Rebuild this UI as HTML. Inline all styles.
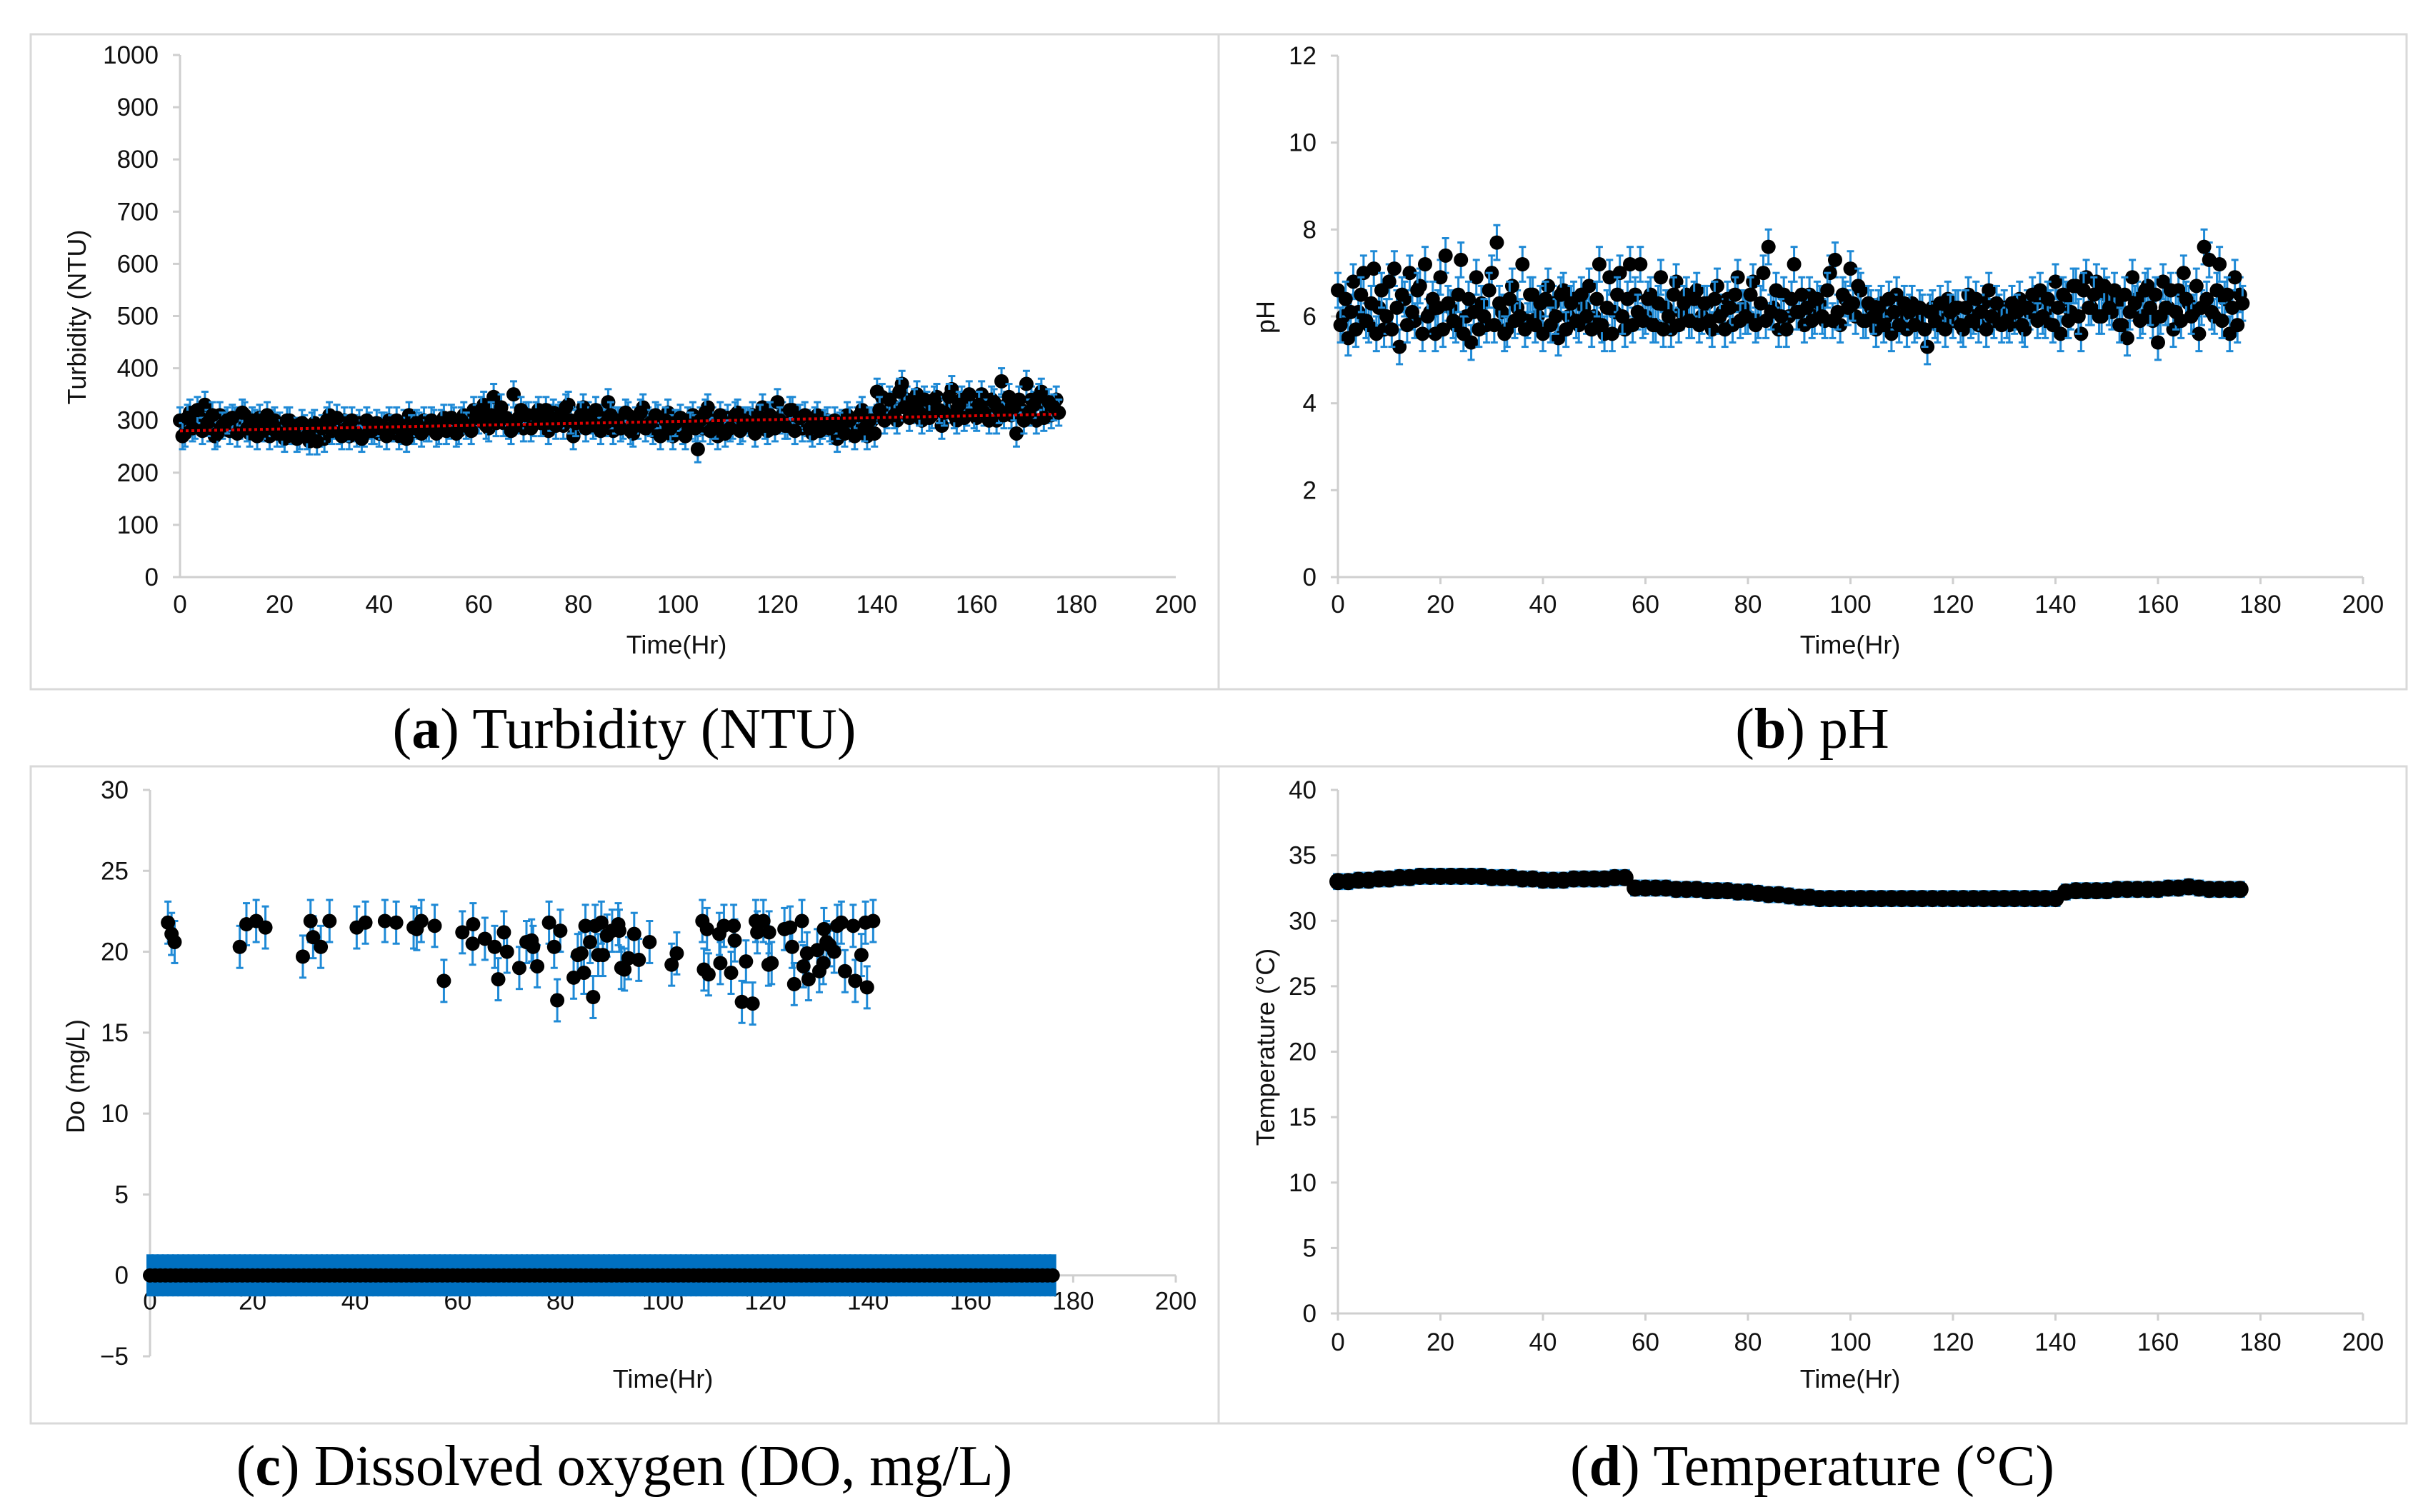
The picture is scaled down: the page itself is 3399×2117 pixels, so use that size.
<!DOCTYPE html>
<html><head><meta charset="utf-8"><style>
html,body{margin:0;padding:0;background:#fff}
svg{display:block}
.tk{font-family:"Liberation Sans",sans-serif;font-size:35px;fill:#111}
.at{font-family:"Liberation Sans",sans-serif;font-size:36px;fill:#111}
.cap{font-family:"Liberation Serif",serif;font-size:80px;fill:#000}
</style></head><body>
<svg id="fig" width="3399" height="2117" viewBox="0 0 3399 2117" xmlns="http://www.w3.org/2000/svg">
<rect x="0" y="0" width="3399" height="2117" fill="#fff"/>
<rect x="43" y="48" width="1663" height="917" fill="none" stroke="#d9d9d9" stroke-width="3"/>
<rect x="1706" y="48" width="1663" height="917" fill="none" stroke="#d9d9d9" stroke-width="3"/>
<rect x="43" y="1073" width="1663" height="920" fill="none" stroke="#d9d9d9" stroke-width="3"/>
<rect x="1706" y="1073" width="1663" height="920" fill="none" stroke="#d9d9d9" stroke-width="3"/>
<text class="cap" x="874" y="1047" text-anchor="middle">(<tspan font-weight="bold">a</tspan>) Turbidity (NTU)</text>
<text class="cap" x="2537" y="1047" text-anchor="middle">(<tspan font-weight="bold">b</tspan>) pH</text>
<text class="cap" x="874" y="2079" text-anchor="middle">(<tspan font-weight="bold">c</tspan>) Dissolved oxygen (DO, mg/L)</text>
<text class="cap" x="2537" y="2079" text-anchor="middle">(<tspan font-weight="bold">d</tspan>) Temperature (°C)</text>
</svg>
<script>
// ---------- data ----------
const xTicks = [0,20,40,60,80,100,120,140,160,180,200];
const turbTicks = [0,100,200,300,400,500,600,700,800,900,1000];
const phTicks = [0,2,4,6,8,10,12];
const doTicks = [-5,0,5,10,15,20,25,30];
const tempTicks = [0,5,10,15,20,25,30,35,40];

const turbidity = [300,275,315,290,305,330,285,270,310,295,
280,300,290,310,275,295,305,285,270,300,
290,265,300,280,270,285,260,295,275,265,
310,290,280,300,270,285,295,275,290,280,
275,290,300,285,270,295,310,280,290,300,
285,295,280,305,290,300,280,310,295,320,
300,330,285,345,310,295,290,350,305,285,
310,295,320,300,280,315,305,290,330,270,
300,325,310,290,295,305,335,280,300,290,
310,275,290,325,300,280,305,290,315,270,
295,280,300,310,245,285,325,300,270,295,
305,290,315,285,300,310,295,325,280,300,
335,310,290,320,300,285,295,275,310,290,
300,280,265,295,310,285,300,320,270,300,
355,345,310,330,300,370,340,320,350,300,
330,310,345,290,320,360,300,340,315,330,
305,350,325,340,300,375,330,310,275,320,
370,340,300,355,320,310,340];
const turbidityB = [270,305,285,320,280,295,310,275,290,300,
305,275,315,285,300,270,290,310,295,275,
275,300,280,265,295,270,290,260,285,300,
280,305,270,285,300,275,265,300,280,295,
290,270,285,300,280,265,285,295,275,285,
300,275,295,280,305,275,300,290,280,305,
320,290,310,295,325,305,280,300,320,310,
285,310,295,320,305,290,310,325,300,295,
310,285,300,320,280,295,310,300,285,315,
280,300,315,285,295,310,270,300,285,295,
305,270,290,285,300,315,280,290,310,275,
285,310,280,300,295,275,305,290,310,285,
300,290,320,280,305,310,285,300,280,295,
285,300,290,275,300,270,310,285,300,275,
320,300,340,310,355,325,305,335,315,340,
305,340,320,315,345,310,330,305,350,310,
330,315,300,335,320,310,345,325,340,300,
315,330,345,305,335,325,315];
const turbTrend = [280,312];

const ph = [6.6,6.0,5.5,6.8,6.1,7.0,5.8,7.1,6.2,5.7,
6.8,7.1,5.3,6.4,7.0,5.9,6.7,7.2,6.1,5.6,
6.9,7.4,6.2,5.8,7.3,6.0,5.4,6.9,6.3,5.8,
7.0,7.7,6.1,5.7,6.7,6.2,7.2,5.9,6.5,6.0,
5.6,6.7,6.3,5.5,6.6,6.0,6.4,5.8,6.2,6.7,
6.0,7.2,5.6,6.9,6.1,7.0,5.7,7.2,6.5,7.2,
6.0,6.5,5.8,6.9,6.2,5.7,6.8,6.1,6.5,5.9,
6.6,6.0,6.3,5.7,6.7,6.1,6.4,5.8,6.9,6.2,
6.0,6.8,5.9,7.0,7.6,6.2,5.7,6.5,6.0,7.2,
6.1,5.8,6.5,6.0,6.3,5.9,7.0,7.3,5.8,6.4,
7.1,6.0,6.6,5.9,6.2,5.7,6.3,6.0,5.6,6.5,
6.0,5.7,6.3,5.9,6.1,5.3,6.2,5.8,6.0,6.4,
5.9,6.2,5.7,6.5,6.0,5.8,6.3,6.6,5.9,6.1,
6.2,5.8,6.0,6.4,5.7,6.1,6.3,6.6,5.9,6.2,
6.8,5.6,6.4,6.1,6.7,5.6,6.9,6.2,6.8,6.0,
6.5,6.1,6.3,5.8,5.5,6.9,6.4,6.0,6.7,5.9,
5.4,6.8,6.2,5.7,6.6,7.0,6.3,6.1,5.6,7.6,
7.3,6.0,7.2,6.4,5.6,6.9,6.5];
const phB = [5.8,6.4,6.1,5.7,6.5,5.9,6.3,5.6,6.6,6.0,
5.7,6.2,6.5,5.8,6.1,6.6,5.6,6.0,6.4,6.2,
5.7,6.3,5.9,6.5,5.6,6.4,6.1,5.7,6.0,6.6,
5.8,6.3,5.6,6.4,5.9,6.0,5.7,6.5,5.8,6.3,
6.4,5.8,6.0,6.5,5.7,6.3,5.9,6.5,6.0,5.7,
6.4,5.8,6.2,5.6,6.5,6.0,6.4,5.8,6.1,5.9,
6.4,5.8,6.3,5.7,6.0,6.5,5.8,6.3,5.9,6.4,
5.8,6.3,5.9,6.4,6.0,5.7,6.2,6.5,5.9,6.0,
6.5,5.8,6.3,5.9,6.1,6.6,6.0,5.7,6.4,6.1,
6.5,6.2,5.9,6.4,6.0,6.6,5.9,6.1,6.5,6.2,
6.3,6.7,5.9,6.3,6.0,6.2,5.8,6.4,6.1,5.8,
6.3,6.1,5.8,6.2,5.7,6.1,5.9,6.3,5.7,6.1,
6.2,5.8,6.2,5.9,6.4,6.1,5.7,6.0,6.3,5.8,
5.9,6.3,6.1,5.8,6.2,6.5,5.9,6.0,6.4,5.8,
6.2,6.5,5.9,6.7,6.0,6.6,6.2,6.5,6.0,6.7,
6.2,6.6,5.8,6.5,6.1,6.3,5.9,6.6,6.2,6.5,
6.0,6.2,6.6,6.1,5.9,6.4,6.0,6.7,6.2,6.4,
6.1,6.6,5.9,6.5,6.2,5.8,6.3];

const doTimes = [3.5,4.2,4.8,17.5,18.8,20.7,22.5,29.8,31.3,31.8,33.3,35,40.3,42,45.8,48,51.4,52,52.9,55.5,57.3,60.9,62.9,63,65.3,67.2,67.9,69,69.6,72,73.4,74.4,74.7,75.5,77.8,78.8,79.4,80,82.6,83.4,84.1,84.6,84.9,85.8,86.4,86.8,87.4,88,88.3,89.1,90.1,91.3,91.5,91.9,92.5,93.3,94.4,95.3,97.4,101.7,102.7,107.7,108,108.6,108.9,111,111.2,111.9,113.3,113.8,114,115.4,116.2,117.5,118.1,118.4,119.6,120.6,120.7,121.2,123.7,124.8,125.2,125.6,127.1,127.4,128.1,128.4,130.1,130.5,131.3,131.4,131.9,132.5,133.4,134,134.8,135.5,137.1,137.5,138.7,139.5,139.8,141];
const doValues = [21.8,21.1,20.6,20.3,21.7,21.9,21.5,19.7,21.9,20.9,20.3,21.9,21.5,21.8,21.9,21.8,21.5,21.4,21.9,21.6,18.2,21.2,20.5,21.7,20.8,20.3,18.3,21.2,20.0,19.0,20.6,20.7,20.3,19.1,21.8,20.3,17.0,21.3,18.4,19.8,19.9,18.7,21.6,20.6,17.2,21.6,19.8,21.8,19.8,21.0,21.3,21.7,21.3,19.0,18.9,19.6,21.1,19.5,20.6,19.2,19.9,21.9,18.9,21.4,18.6,21.1,19.3,21.6,18.7,21.6,20.7,16.9,19.4,16.8,21.9,21.2,21.9,19.2,21.2,19.3,21.4,21.5,20.3,18.0,21.9,19.1,19.9,18.3,20.1,18.8,19.3,21.4,20.6,20.4,20.0,21.6,21.8,18.8,21.6,18.2,19.8,21.8,17.8,21.9];
const doZeroStart = 0, doZeroEnd = 176, doZeroStep = 1; // zero-reading series (time grid)

const tempTimes_step = 2;
const temperature = [33.0,33.0,33.1,33.1,33.2,33.2,33.3,33.3,33.4,33.4,33.4,33.4,33.4,33.4,33.4,33.3,33.3,33.3,33.2,33.2,33.1,33.1,33.1,33.2,33.2,33.2,33.2,33.3,33.3,
32.5,32.5,32.5,32.5,32.4,32.4,32.4,32.3,32.3,32.3,32.2,32.2,32.1,32.0,32.0,31.9,31.8,31.8,31.7,31.7,
31.7,31.7,31.7,31.7,31.7,31.7,31.7,31.7,31.7,31.7,31.7,31.7,31.7,31.7,31.7,31.7,31.7,31.7,31.7,31.7,31.7,31.7,
32.2,32.3,32.3,32.3,32.3,32.4,32.4,32.4,32.4,32.4,32.5,32.5,32.6,32.5,32.4,32.4,32.4,32.4];

// ---------- drawing ----------
const NS = "http://www.w3.org/2000/svg";
const svg = document.getElementById("fig");
const BLUE = "#1f8ad6";
function mk(tag, attrs, parent) {
  const e = document.createElementNS(NS, tag);
  for (const k in attrs) e.setAttribute(k, attrs[k]);
  (parent || svg).appendChild(e);
  return e;
}
function linear(d0, d1, r0, r1) { return v => r0 + (v - d0) * (r1 - r0) / (d1 - d0); }

function axes(p) {
  const g = mk("g", {});
  
  
  const yTop = p.y(p.yTicks[p.yTicks.length - 1]), yBot = p.y(p.yTicks[0]);
  const xa = p.y(p.xAxisAt);
  const yl = mk("line", {x1: p.x(0), x2: p.x(0), y1: yTop, y2: yBot, stroke: "#cfcfcf", "stroke-width": 3}, g);
  
  
  const xl = mk("line", {x1: p.x(0) - 10, x2: p.x(200), y1: xa, y2: xa, stroke: "#cfcfcf", "stroke-width": 3}, g);
  
  
  p.yTicks.forEach(v => {
    mk("line", {x1: p.x(0) - 10, x2: p.x(0), y1: p.y(v), y2: p.y(v), stroke: "#cfcfcf", "stroke-width": 3}, g);
    const t = mk("text", {x: p.x(0) - 30, y: p.y(v) + 12, "text-anchor": "end", class: "tk"}, g);
    t.textContent = v < 0 ? "\u2212" + Math.abs(v) : v;
    
    
  });
  xTicks.forEach(v => {
    if (p.xTickMarks) mk("line", {x1: p.x(v), x2: p.x(v), y1: xa, y2: xa + 10, stroke: "#cfcfcf", "stroke-width": 3}, g);
    const t = mk("text", {x: p.x(v), y: xa + p.xLabOff, "text-anchor": "middle", class: "tk"}, g);
    t.textContent = v;
    
    
  });
  const xt = mk("text", {x: p.xTitle[0], y: p.xTitle[1], "text-anchor": "middle", class: "at"}, g);
  xt.textContent = "Time(Hr)";
  
  
  const yt = mk("text", {x: 0, y: 0, "text-anchor": "middle", class: "at", transform: `translate(${p.yTitle[0]},${p.yTitle[1]}) rotate(-90)`}, g);
  yt.textContent = p.yLabel;
  
  
}

function points(p, xs, ys, err, r, bw, cap, nm, errColor) {
  const ge = mk("g", {stroke: errColor || BLUE, "stroke-width": bw});
  
  
  const gd = mk("g", {fill: "#000"});
  
  
  xs.forEach((t, i) => {
    const cx = p.x(t), y1 = p.y(ys[i] + err), y2 = p.y(ys[i] - err);
    mk("line", {x1: cx, x2: cx, y1: y1, y2: y2}, ge);
    if (cap) {
      mk("line", {x1: cx - cap, x2: cx + cap, y1: y1, y2: y1}, ge);
      mk("line", {x1: cx - cap, x2: cx + cap, y1: y2, y2: y2}, ge);
    }
  });
  return () => xs.forEach((t, i) => {
    const c = mk("circle", {cx: p.x(t), cy: p.y(ys[i]), r: r}, gd);
    
    
  });
}

// Panel a
const pa = {name: "turbidity", x: linear(0, 200, 252, 1646), y: linear(0, 1000, 808, 77), yTicks: turbTicks, xAxisAt: 0, xLabOff: 50, xTickMarks: false, xTitle: [947, 915], yTitle: [120, 444], yLabel: "Turbidity (NTU)"};
axes(pa);
const turbT = turbidity.map((_, i) => i);
const turbTB = turbidityB.map((_, i) => i + 0.5);
const da1 = points(pa, turbT, turbidity, 25, 10, 3, 5, "turbidity");
const da2 = points(pa, turbTB, turbidityB, 25, 10, 3, 5, "turbidity-b");
da1(); da2();
const tr = mk("line", {x1: pa.x(0), x2: pa.x(176), y1: pa.y(turbTrend[0]), y2: pa.y(turbTrend[1]), stroke: "#e00000", "stroke-width": 4, "stroke-dasharray": "4 4"});



// Panel b
const pb = {name: "ph", x: linear(0, 200, 1873, 3308), y: linear(0, 12, 808, 78), yTicks: phTicks, xAxisAt: 0, xLabOff: 50, xTickMarks: true, xTitle: [2590, 915], yTitle: [1784, 444], yLabel: "pH"};
axes(pb);
const phT = ph.map((_, i) => i);
const phTB = phB.map((_, i) => i + 0.5);
const db1 = points(pb, phT, ph, 0.4, 10, 3, 5, "ph");
const db2 = points(pb, phTB, phB, 0.4, 10, 3, 5, "ph-b");
db1(); db2();

// Panel c
const pc = {name: "do", x: linear(0, 200, 210, 1646), y: linear(-5, 30, 1899, 1106), yTicks: doTicks, xAxisAt: 0, xLabOff: 48, xTickMarks: true, xTitle: [928, 1943], yTitle: [118, 1507], yLabel: "Do (mg/L)"};
axes(pc);
const zeroT = [], zeroV = [];
for (let t = doZeroStart; t <= doZeroEnd; t += doZeroStep) { zeroT.push(t); zeroV.push(0); }
points(pc, zeroT, zeroV, 1.3, 10, 10, 0, "do-zero", "#0070c0")();
points(pc, doTimes, doValues, 1.3, 10, 3, 5, "do")();

// Panel d
const pd = {name: "temperature", x: linear(0, 200, 1873, 3308), y: linear(0, 40, 1839, 1106), yTicks: tempTicks, xAxisAt: 0, xLabOff: 52, xTickMarks: true, xTitle: [2590, 1943], yTitle: [1784, 1466], yLabel: "Temperature (\u00b0C)"};
axes(pd);
const tempT = temperature.map((_, i) => i * tempTimes_step);
points(pd, tempT, temperature, 0.65, 12, 14, 0, "temperature")();
</script>
</body></html>
